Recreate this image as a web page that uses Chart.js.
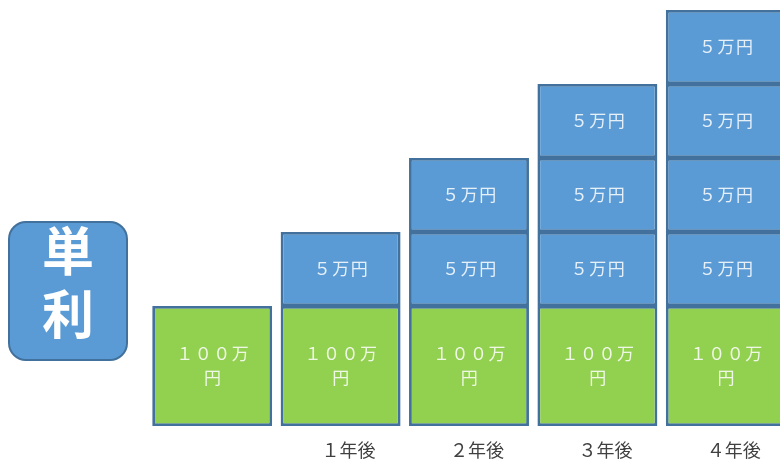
<!DOCTYPE html>
<html>
<head>
<meta charset="utf-8">
<script src="https://cdn.jsdelivr.net/npm/chart.js@4"></script>
<style>
    html, body { margin: 0; padding: 0; overflow: hidden; background: #fff; }
    #wrap { position: absolute; left: 0; top: 0; width: 800px; height: 462px; }
    #badge {
        position: absolute; left: 8px; top: 221px; width: 116px; height: 136px;
        background: #5B9BD5; border: 2px solid #41719C; border-radius: 18px;
        color: #fff; font-family: "Noto Sans CJK JP", sans-serif; font-weight: bold;
        font-size: 52px; line-height: 63px; text-align: center;
    }
    #badge div { position: relative; top: -6px; }
</style>
</head>
<body>
<div id="wrap"><canvas id="simpleChart"></canvas></div>
<div id="badge"><div>単<br>利</div></div>
<script>
const categories = ['', '１年後', '２年後', '３年後', '４年後'];
const principal = [100, 100, 100, 100, 100];        // 万円
const interestBlocks = [0, 1, 2, 3, 4];             // 5万円 blocks per year
const principalLabel = ['１００万', '円'];
const interestLabel = '５万円';

// the picture is not to scale: one 5万円 block = 1 unit, 100万円 block ≈ 1.62 units
const principalUnits = 120 / 74;

const green = '#92D050';
const blue = '#5B9BD5';
const edge = '#41719C';

const datasets = [{
    label: '元本',
    data: principal.map(() => principalUnits),
    backgroundColor: green,
    textLines: principalLabel
}];
for (let k = 1; k <= 4; k++) {
    datasets.push({
        label: '利息' + k,
        data: interestBlocks.map(n => n >= k ? 1 : null),
        backgroundColor: blue,
        textLines: [interestLabel]
    });
}
datasets.forEach(ds => {
    ds.borderColor = edge;
    ds.borderWidth = 2.8;
    ds.borderSkipped = false;
    ds.stack = 's';
    ds.categoryPercentage = 1;
    ds.barPercentage = 0.934;
});

const blockText = {
    id: 'blockText',
    afterDatasetsDraw(chart) {
        const ctx = chart.ctx;
        ctx.save();
        ctx.fillStyle = 'rgba(255,255,255,0.85)';
        ctx.font = '17px "Noto Sans CJK JP", sans-serif';
        ctx.letterSpacing = '1.5px';
        ctx.textAlign = 'center';
        ctx.textBaseline = 'middle';
        chart.data.datasets.forEach((ds, di) => {
            const meta = chart.getDatasetMeta(di);
            meta.data.forEach((bar, i) => {
                if (ds.data[i] == null) return;
                const cy = (bar.y + bar.base) / 2;
                const lines = ds.textLines;
                const lh = 24;
                lines.forEach((t, li) => {
                    ctx.fillText(t, bar.x + 1, cy + (li - (lines.length - 1) / 2) * lh);
                });
            });
        });
        ctx.restore();
    }
};

new Chart(document.getElementById('simpleChart'), {
    type: 'bar',
    data: { labels: categories, datasets: datasets },
    plugins: [blockText],
    options: {
        responsive: true,
        maintainAspectRatio: false,
        animation: false,
        layout: { padding: { left: 148, right: 10, top: 0, bottom: 1 } },
        plugins: { legend: { display: false }, tooltip: { enabled: false } },
        scales: {
            x: {
                stacked: true,
                grid: { display: false, drawTicks: false },
                border: { display: false },
                afterFit(scale) { scale.height = 35; },
                ticks: {
                    padding: 13,
                    labelOffset: 8,
                    color: '#404040',
                    font: { family: '"Noto Sans CJK JP", sans-serif', size: 18 }
                }
            },
            y: {
                stacked: true,
                display: false,
                min: 0,
                max: 426 / 74
            }
        }
    }
});
</script>
</body>
</html>
